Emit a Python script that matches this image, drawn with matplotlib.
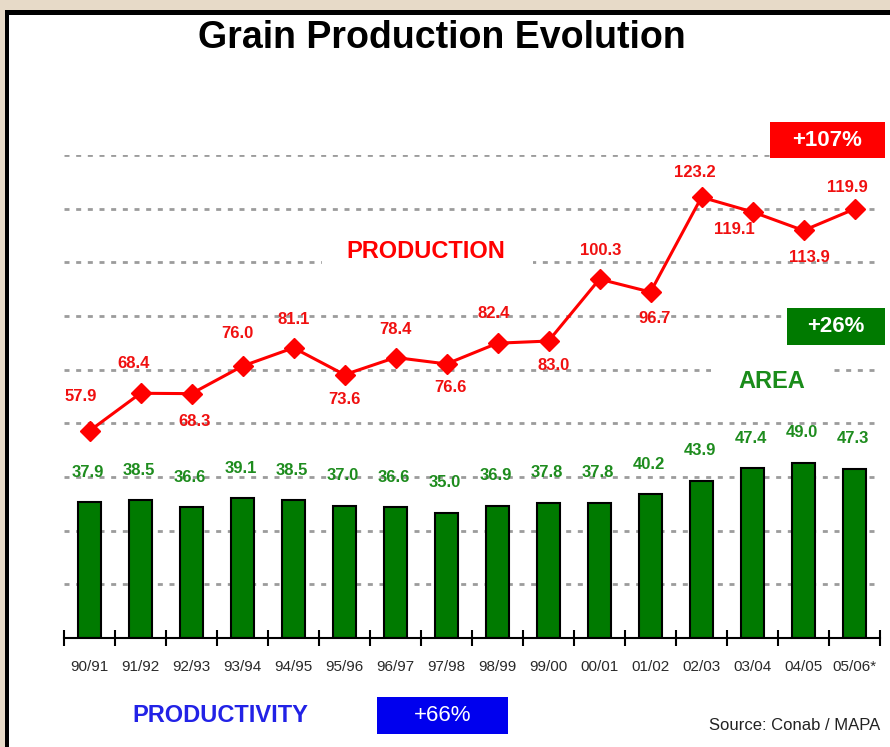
import matplotlib
matplotlib.use("Agg")
import matplotlib.pyplot as plt
from matplotlib.patches import Rectangle
from matplotlib import font_manager

# =============================================================================
# Data (million t for production, million ha for area)
# =============================================================================

seasons = ["90/91", "91/92", "92/93", "93/94", "94/95", "95/96", "96/97", "97/98",
           "98/99", "99/00", "00/01", "01/02", "02/03", "03/04", "04/05", "05/06*"]
area = [37.9, 38.5, 36.6, 39.1, 38.5, 37.0, 36.6, 35.0,
        36.9, 37.8, 37.8, 40.2, 43.9, 47.4, 49.0, 47.3]
production = [57.9, 68.4, 68.3, 76.0, 81.1, 73.6, 78.4, 76.6,
              82.4, 83.0, 100.3, 96.7, 123.2, 119.1, 113.9, 119.9]

# label offsets (pixels) for the production values
prod_offsets = [(-9, 34), (-7, 30), (3, -28), (-5, 33), (0, 28), (0, -25),
                (0, 28), (4, -24), (-4, 30), (5, -24), (1, 29), (4, -26),
                (-7, 25), (-18, -18), (6, -27), (-7, 22)]

# =============================================================================
# Fonts
# =============================================================================

installed = {f.name for f in font_manager.fontManager.ttflist}
NARROW = "Liberation Sans Narrow" if "Liberation Sans Narrow" in installed else "Liberation Sans"
SANS = "Liberation Sans"

W, H = 890, 747


def fx(px):
    return px / W


def fy(py):
    return 1 - py / H


RED = "#ff0000"
GREEN = "#007a00"
BLUE = "#0000ee"

fig = plt.figure(figsize=(W / 100, H / 100), dpi=100)
fig.patch.set_facecolor("#e7dac8")

# black frame + white panel
fig.add_artist(Rectangle((fx(5), 0), 1 - fx(5), fy(10), transform=fig.transFigure,
                         facecolor="black", edgecolor="none", zorder=-3))
fig.add_artist(Rectangle((fx(9), 0), 1 - fx(9), fy(15), transform=fig.transFigure,
                         facecolor="white", edgecolor="none", zorder=-2))

ax = fig.add_axes([fx(64), fy(638), fx(880) - fx(64), fy(155) - fy(638)])
ax.set_facecolor("none")

x = list(range(len(seasons)))

# Grid
for g in range(15, 136, 15):
    ax.axhline(g, color="#9c9c9c", lw=2.0, ls=(0, (1.8, 2.4)), zorder=1)

# Bars
ax.bar(x, area, width=0.46, color=GREEN, edgecolor="black", linewidth=1.5, zorder=2)
for xi, v in zip(x, area):
    ax.annotate(f"{v:.1f}", (xi, v), xytext=(-2, 30), textcoords="offset pixels",
                ha="center", va="center", color="#1e8c1e", fontsize=12,
                fontweight="bold", family=NARROW, zorder=4)

# Production line
ax.plot(x, production, color=RED, lw=2.2, marker="D", markersize=10,
        markeredgecolor=RED, zorder=3)
for xi, v, off in zip(x, production, prod_offsets):
    ax.annotate(f"{v:.1f}", (xi, v), xytext=off, textcoords="offset pixels",
                ha="center", va="center", color="#f01010", fontsize=12,
                fontweight="bold", family=NARROW, zorder=4)

ax.set_xlim(-0.5, len(seasons) - 0.5)
ax.set_ylim(0, 135)
for s in ["top", "right", "left"]:
    ax.spines[s].set_visible(False)
ax.spines["bottom"].set_linewidth(1.5)
ax.set_yticks([])
ax.set_xticks(x)
ax.set_xticklabels(seasons, family=NARROW, fontsize=11, color="#2a2a2a")
ax.set_xticks([i - 0.5 for i in range(len(seasons) + 1)], minor=True)
ax.tick_params(axis="x", which="major", length=0, pad=16)
ax.tick_params(axis="x", which="minor", length=11, width=1.5, direction="inout")

# =============================================================================
# Texts
# =============================================================================

fig.text(fx(442), fy(38), "Grain Production Evolution", ha="center", va="center",
         fontsize=27, fontweight="bold", family=SANS, color="black")


def blank(x0, y0, x1, y1):
    # white patch that breaks the grid behind a label
    fig.add_artist(Rectangle((fx(x0), fy(y1)), fx(x1) - fx(x0), fy(y0) - fy(y1),
                             transform=fig.transFigure, facecolor="white",
                             edgecolor="none", zorder=4))


blank(322, 238, 533, 270)
fig.text(fx(426), fy(252), "PRODUCTION", ha="center", va="center", fontsize=17,
         fontweight="bold", family=SANS, color=RED, zorder=5)
blank(711, 362, 833, 400)
fig.text(fx(772), fy(382), "AREA", ha="center", va="center", fontsize=17,
         fontweight="bold", family=SANS, color="#1a8c1a", zorder=5)
fig.text(fx(220), fy(716), "PRODUCTIVITY", ha="center", va="center", fontsize=17,
         fontweight="bold", family=SANS, color="#2222e6")


def box(x0, y0, x1, y1, color, label, weight="bold"):
    fig.add_artist(Rectangle((fx(x0), fy(y1)), fx(x1) - fx(x0), fy(y0) - fy(y1),
                             transform=fig.transFigure, facecolor=color,
                             edgecolor="none", zorder=5))
    fig.text(fx((x0 + x1) / 2), fy((y0 + y1) / 2), label, ha="center", va="center",
             fontsize=16, fontweight=weight, family=SANS, color="white", zorder=6)


box(770, 122, 885, 158, RED, "+107%")
box(787, 308, 885, 345, GREEN, "+26%")
box(377, 697, 508, 734, BLUE, "+66%", weight="normal")

fig.text(fx(880), fy(725), "Source: Conab / MAPA", ha="right", va="center",
         fontsize=12, family=NARROW, color="#222222")

fig.savefig("out.png", dpi=100)
